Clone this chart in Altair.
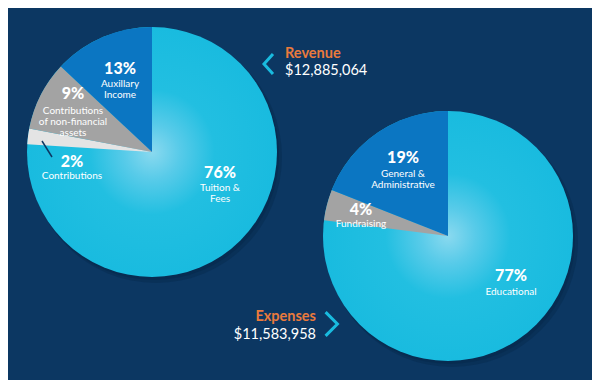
import math
import altair as alt
import pandas as pd

# ---------------- data ----------------
rev_cats = ["Tuition & Fees", "Contributions", "Contributions of non-financial assets", "Auxillary Income"]
rev_pct = [76, 2, 9, 13]
rev_labels = ["Tuition &\nFees", "Contributions", "Contributions\nof non-financial\nassets", "Auxillary\nIncome"]
rev_title = "Revenue"
rev_total = "$12,885,064"

exp_cats = ["Educational", "Fundraising", "General & Administrative"]
exp_pct = [77, 4, 19]
exp_labels = ["Educational", "Fundraising", "General &\nAdministrative"]
exp_title = "Expenses"
exp_total = "$11,583,958"

# ---------------- layout / style ----------------
W, H = 584, 372
BG = "#0c3762"
SHADOW = "#062a4d"
CYAN = "#19bbdf"
BLUE = "#0b76c2"
GREY = "#a3a3a3"
LIGHT = "#e4e4e4"
ORANGE = "#ea7a3c"
FONT = "Lato"
R = 125

rev_center = (144, 144)
exp_center = (440, 228)
rev_colors = ["rgba(0,0,0,0)", LIGHT, GREY, BLUE]
exp_colors = ["rgba(0,0,0,0)", GREY, BLUE]
# label positions: percent (x, y centre) and name first-line centre y
rev_lab_pos = [(212, 165, 179), (64, 154, 167), (65, 86, 102), (112, 61, 75)]
exp_lab_pos = [(503, 268, 283), (353, 202, 215), (395, 150, 165)]

gradient = alt.RadialGradient(
    gradient="radial",
    x1=0.5, y1=0.5, r1=0,
    x2=0.5, y2=0.5, r2=0.5,
    stops=[
        alt.GradientStop(offset=0, color="#8ad9ef"),
        alt.GradientStop(offset=0.22, color="#58cbe9"),
        alt.GradientStop(offset=0.5, color="#22bfe1"),
        alt.GradientStop(offset=1, color=CYAN),
    ],
)

one = pd.DataFrame({"k": [0]})


def pie(cats, pcts, labels, colors, center, lab_pos):
    cx, cy = center
    df = pd.DataFrame({
        "cat": cats,
        "value": pcts,
        "idx": list(range(len(cats))),
        "label": labels,
        "px": [p[0] for p in lab_pos],
        "py": [p[1] for p in lab_pos],
        "ny": [p[2] - 4.5 for p in lab_pos],
    })
    shadow1 = alt.Chart(one).mark_arc(
        theta=0, theta2=2 * math.pi, radius=R + 1, color=SHADOW, opacity=0.45
    ).encode(x=alt.value(cx + 4), y=alt.value(cy + 5))
    shadow2 = alt.Chart(one).mark_arc(
        theta=0, theta2=2 * math.pi, radius=R, color=SHADOW, opacity=0.6
    ).encode(x=alt.value(cx + 2), y=alt.value(cy + 3))
    base = alt.Chart(one).mark_arc(
        theta=0, theta2=2 * math.pi, radius=R, color=gradient
    ).encode(x=alt.value(cx), y=alt.value(cy))
    slices = alt.Chart(df).mark_arc(radius=R).encode(
        theta=alt.Theta("value:Q", stack=True),
        order=alt.Order("idx:Q"),
        color=alt.Color("cat:N", scale=alt.Scale(domain=cats, range=colors), legend=None),
        x=alt.value(cx),
        y=alt.value(cy),
    )
    pct_text = alt.Chart(df).transform_calculate(
        t="datum.value + '%'"
    ).mark_text(
        font=FONT, fontWeight=900, fontSize=16, color="white",
        align="center", baseline="middle"
    ).encode(
        x=alt.X("px:Q", scale=None, axis=None),
        y=alt.Y("py:Q", scale=None, axis=None),
        text="t:N",
    )
    name_text = alt.Chart(df).mark_text(
        font=FONT, fontSize=10, color="white", align="center", baseline="top",
        lineBreak="\n", lineHeight=11
    ).encode(
        x=alt.X("px:Q", scale=None, axis=None),
        y=alt.Y("ny:Q", scale=None, axis=None),
        text="label:N",
    )
    return alt.layer(shadow1, shadow2, base, slices, pct_text, name_text)


rev_pie = pie(rev_cats, rev_pct, rev_labels, rev_colors, rev_center, rev_lab_pos)
exp_pie = pie(exp_cats, exp_pct, exp_labels, exp_colors, exp_center, exp_lab_pos)

# leader line for the 2% slice
leader = alt.Chart(one).mark_rule(color=BG, strokeWidth=1.5).encode(
    x=alt.value(34), y=alt.value(133), x2=alt.value(44), y2=alt.value(149)
)

# titles
rev_t = alt.Chart(one).mark_text(
    text=rev_title, font=FONT, fontWeight="bold", fontSize=14.5, color=ORANGE,
    align="left", baseline="middle"
).encode(x=alt.value(277), y=alt.value(46))
rev_v = alt.Chart(one).mark_text(
    text=rev_total, font=FONT, fontSize=14.5, color="white",
    align="left", baseline="middle"
).encode(x=alt.value(277), y=alt.value(63))
exp_t = alt.Chart(one).mark_text(
    text=exp_title, font=FONT, fontWeight="bold", fontSize=14.5, color=ORANGE,
    align="right", baseline="middle"
).encode(x=alt.value(308), y=alt.value(309))
exp_v = alt.Chart(one).mark_text(
    text=exp_total, font=FONT, fontSize=14.5, color="white",
    align="right", baseline="middle"
).encode(x=alt.value(308), y=alt.value(326.5))

# chevrons
chev_l = alt.Chart(one).mark_point(
    shape="M0.45,-1L-0.45,0L0.45,1", filled=False, stroke=CYAN, strokeWidth=3,
    size=400, opacity=1
).encode(x=alt.value(260.5), y=alt.value(56))
chev_r = alt.Chart(one).mark_point(
    shape="M-0.5,-1L0.5,0L-0.5,1", filled=False, stroke=CYAN, strokeWidth=3,
    size=560, opacity=1
).encode(x=alt.value(323.5), y=alt.value(316))

chart = alt.layer(
    rev_pie, exp_pie, leader, rev_t, rev_v, exp_t, exp_v, chev_l, chev_r
).resolve_scale(color="independent").properties(
    width=W, height=H, background=BG, padding=0,
    autosize=alt.AutoSizeParams(type="none"),
).configure_view(stroke=None)

chart.save("out.html", embed_options={"renderer": "svg", "actions": False})
